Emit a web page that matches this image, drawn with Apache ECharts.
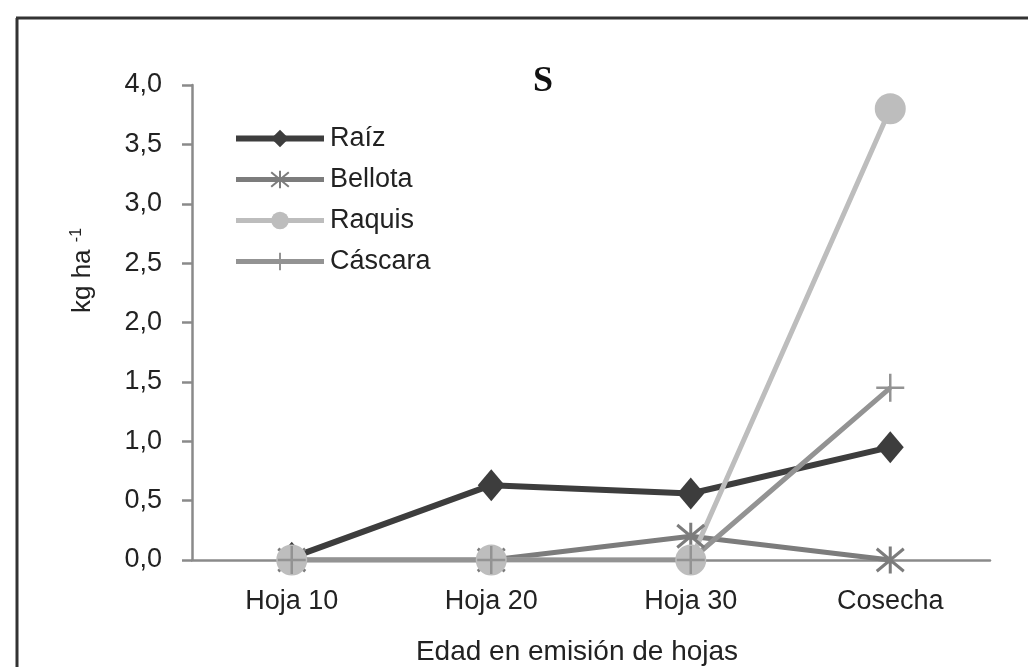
<!DOCTYPE html>
<html>
<head>
<meta charset="utf-8">
<script src="https://cdn.jsdelivr.net/npm/echarts@6/dist/echarts.min.js"></script>
<style>
html,body{margin:0;padding:0;background:#fff;}
#c{width:1028px;height:667px;}
</style>
</head>
<body>
<div id="c"></div>
<script>
const categories = ['Hoja 10', 'Hoja 20', 'Hoja 30', 'Cosecha'];
const raiz = [0.02, 0.63, 0.56, 0.95];
const bellota = [0, 0, 0.2, 0];
const raquis = [0, 0, 0, 3.8];
const cascara = [0, 0, 0, 1.45];
const seriesNames = ['Raíz', 'Bellota', 'Raquis', 'Cáscara'];

const FONT = '"Liberation Sans", Arial, sans-serif';
const asterisk = 'path://M0,0L20,20M20,0L0,20M10,-2L10,22';
const plus = 'path://M10,0L10,20M0,10L20,10';

const chart = echarts.init(document.getElementById('c'), null, {renderer: 'canvas'});
chart.setOption({
  animation: false,
  backgroundColor: '#fff',
  title: {
    text: 'S', left: 538, top: 59, textAlign: 'center',
    textStyle: {fontFamily: '"Liberation Serif", "DejaVu Serif", serif', fontWeight: 'bold', fontSize: 36, color: '#111'}
  },
  graphic: [
    {type: 'line', shape: {x1: 17, y1: 18, x2: 17, y2: 667}, style: {stroke: '#333', lineWidth: 3}},
    {type: 'line', shape: {x1: 16, y1: 18, x2: 1028, y2: 18}, style: {stroke: '#333', lineWidth: 3}}
  ],
  legend: {
    orient: 'vertical', left: 233, top: 125, padding: 0, itemWidth: 88, itemHeight: 22, itemGap: 14,
    data: seriesNames,
    lineStyle: {width: 'inherit'},
    textStyle: {fontFamily: FONT, fontSize: 27, color: '#222', padding: [0, 0, 0, 1]}
  },
  grid: {left: 192, right: 38, top: 85, bottom: 107, containLabel: false, outerBoundsMode: 'none'},
  xAxis: {
    type: 'category', data: categories, boundaryGap: true,
    axisLine: {lineStyle: {color: '#8a8a8a', width: 2.5}},
    axisTick: {show: false},
    axisLabel: {fontFamily: FONT, fontSize: 27, color: '#222', margin: 28},
    name: 'Edad en emisión de hojas', nameLocation: 'middle', nameGap: 78,
    nameTextStyle: {fontFamily: FONT, fontSize: 28, color: '#222', padding: [0, 28, 0, 0]}
  },
  yAxis: {
    type: 'value', min: 0, max: 4, interval: 0.5,
    axisLine: {show: true, lineStyle: {color: '#8a8a8a', width: 2.5}},
    axisTick: {show: true, length: 10, lineStyle: {color: '#8a8a8a', width: 2.5}},
    splitLine: {show: false},
    axisLabel: {fontFamily: FONT, fontSize: 27, color: '#222', margin: 30,
      formatter: v => v.toFixed(1).replace('.', ',')},
    name: '{a|kg ha }{b|-1}', nameLocation: 'middle', nameGap: 95, nameRotate: 90,
    nameTextStyle: {
      padding: [0, 0, 0, 104],
      rich: {
        a: {fontFamily: FONT, fontSize: 26, color: '#222'},
        b: {fontFamily: FONT, fontSize: 16, color: '#222', verticalAlign: 'top', padding: [0, 0, 12, 0]}
      }
    }
  },
  series: [
    {name: 'Raíz', type: 'line', data: raiz, symbol: 'diamond', symbolSize: [27, 32], showAllSymbol: true,
      lineStyle: {color: '#3d3d3d', width: 6}, itemStyle: {color: '#3d3d3d'}},
    {name: 'Bellota', type: 'line', data: bellota, symbol: asterisk, symbolSize: 27, showAllSymbol: true,
      lineStyle: {color: '#7c7c7c', width: 5}, itemStyle: {color: '#7c7c7c', borderColor: '#7c7c7c', borderWidth: 3}},
    {name: 'Raquis', type: 'line', data: raquis, symbol: 'circle', symbolSize: 31, showAllSymbol: true,
      lineStyle: {color: '#bdbdbd', width: 5}, itemStyle: {color: '#bdbdbd'}},
    {name: 'Cáscara', type: 'line', data: cascara, symbol: plus, symbolSize: 28, showAllSymbol: true,
      lineStyle: {color: '#939393', width: 5}, itemStyle: {color: '#939393', borderColor: '#939393', borderWidth: 2.5}}
  ]
});
</script>
</body>
</html>
